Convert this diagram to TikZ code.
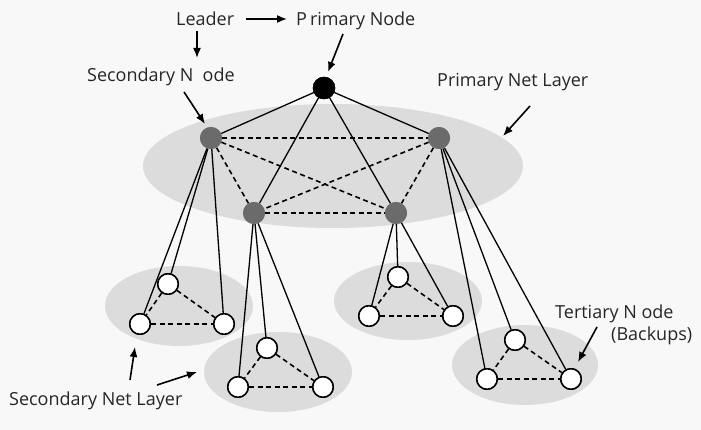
\documentclass[tikz,border=0pt]{standalone}
\usepackage{fontspec}
\setmainfont{Open Sans}
\usetikzlibrary{arrows.meta}
\begin{document}
\begin{tikzpicture}[x=1pt,y=-1pt,
  layer/.style={fill=layergray,draw=none},
  leadnode/.style={circle,fill=black,draw=black,minimum size=22pt,inner sep=0pt},
  secnode/.style={circle,fill=secgray,draw=none,minimum size=22pt,inner sep=0pt},
  ternode/.style={circle,fill=white,draw=black,line width=1.5pt,minimum size=20.5pt,inner sep=0pt},
  solidlink/.style={draw=black,line width=1.3pt},
  dashlink/.style={draw=black,line width=1.6pt,dash pattern=on 5pt off 3.5pt},
  lbl/.style={font=\fontsize{18}{21}\selectfont,inner sep=0pt,anchor=base west,text=black!85},
  pointer/.style={draw=black,line width=1.6pt,-{Latex[length=10pt,width=8pt]}}
]
\definecolor{layergray}{HTML}{DCDCDC}
\definecolor{secgray}{HTML}{6B6B6B}
\definecolor{bggray}{HTML}{F8F8F8}
\useasboundingbox (0,0) rectangle (701,430);
\fill[bggray] (0,0) rectangle (701,430);

% layers
\fill[layer] (333,166) ellipse [x radius=190, y radius=62];
\fill[layer] (179,306) ellipse [x radius=74, y radius=40];
\fill[layer] (278,372) ellipse [x radius=74, y radius=40];
\fill[layer] (408,301) ellipse [x radius=74, y radius=39];
\fill[layer] (525,365) ellipse [x radius=73, y radius=40];

% primary and secondary nodes
\node[leadnode] (p) at (324,88) {};
\node[secnode] (s1) at (211,138) {};
\node[secnode] (s2) at (439,138) {};
\node[secnode] (s3) at (254,213) {};
\node[secnode] (s4) at (396,213) {};

% tertiary nodes
\node[ternode] (a1) at (168,284) {};
\node[ternode] (a2) at (140,324) {};
\node[ternode] (a3) at (224,324) {};
\node[ternode] (b1) at (267,348) {};
\node[ternode] (b2) at (238,387) {};
\node[ternode] (b3) at (323,387) {};
\node[ternode] (c1) at (398,277) {};
\node[ternode] (c2) at (369,316) {};
\node[ternode] (c3) at (453,316) {};
\node[ternode] (d1) at (515,340) {};
\node[ternode] (d2) at (487,379) {};
\node[ternode] (d3) at (571,379) {};

% links
\foreach \s in {s1,s2,s3,s4} \draw[solidlink] (p) -- (\s);
\draw[dashlink] (s1) -- (s2);
\draw[dashlink] (s3) -- (s4);
\draw[dashlink] (s1) -- (s3);
\draw[dashlink] (s2) -- (s4);
\draw[dashlink] (s1) -- (s4);
\draw[dashlink] (s2) -- (s3);
\foreach \t in {a1,a2,a3} \draw[solidlink] (s1) -- (\t);
\foreach \t in {b1,b2,b3} \draw[solidlink] (s3) -- (\t);
\foreach \t in {c1,c2,c3} \draw[solidlink] (s4) -- (\t);
\foreach \t in {d1,d2,d3} \draw[solidlink] (s2) -- (\t);
\foreach \c in {a,b,c,d} {
  \draw[dashlink] (\c1) -- (\c2);
  \draw[dashlink] (\c2) -- (\c3);
  \draw[dashlink] (\c1) -- (\c3);
}

% redraw nodes over links
\node[leadnode] at (p) {};
\foreach \s in {s1,s2,s3,s4} \node[secnode] at (\s) {};
\foreach \t in {a1,a2,a3,b1,b2,b3,c1,c2,c3,d1,d2,d3} \node[ternode] at (\t) {};

% labels
\node[lbl] (lead) at (176,26) {Leader};
\node[lbl] (prim) at (296,26) {P\,rimary Node};
\node[lbl] (secn) at (87,82) {Secondary N\ \ ode};
\node[lbl] (pnl) at (437,87) {Primary Net Layer};
\node[lbl] (tern) at (555,318) {Tertiary N\ ode};
\node[lbl] (back) at (611,340) {(Backups)};
\node[lbl] (snl) at (9,405) {Secondary Net Layer};

% pointers
\coordinate (l1) at (246,19); \coordinate (l2) at (287,19);
\coordinate (d1t) at (197,31); \coordinate (d1h) at (197,58);
\coordinate (pt) at (343,34); \coordinate (ph) at (328,72);
\coordinate (st) at (184,92); \coordinate (sh) at (205,124);
\coordinate (nt) at (530,106); \coordinate (nh) at (503,136);
\coordinate (at) at (130,380); \coordinate (ah) at (135,347);
\coordinate (bt) at (157,385); \coordinate (bh) at (197,372);
\coordinate (tt) at (597,327); \coordinate (th) at (578,362);
\draw[pointer] (l1) -- (l2);
\draw[pointer] (d1t) -- (d1h);
\draw[pointer] (pt) -- (ph);
\draw[pointer] (st) -- (sh);
\draw[pointer] (nt) -- (nh);
\draw[pointer] (at) -- (ah);
\draw[pointer] (bt) -- (bh);
\draw[pointer] (tt) -- (th);
\end{tikzpicture}
\end{document}
